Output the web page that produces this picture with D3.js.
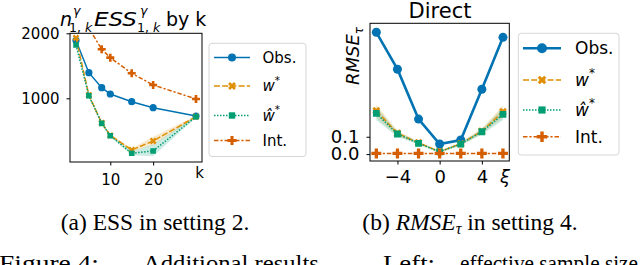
<!DOCTYPE html>
<html>
<head>
<meta charset="utf-8">
<script src="https://cdn.jsdelivr.net/npm/d3@7"></script>
<style>
body{margin:0;background:#fff}
svg{display:block}
text{font-family:"DejaVu Sans",sans-serif;fill:#000}
.serif{font-family:"Liberation Serif","Times New Roman",serif}
</style>
</head>
<body>
<svg id="fig" width="640" height="265"></svg>
<script>
// ---- left panel data (ESS by k)
var kVals = [2, 5, 8, 10, 15, 20, 30];
var essObs = [1890, 1394, 1163, 1066, 948, 856, 728];
var essW = [1930, 1050, 620, 430, 205, 343, 717];
var essWLo = [1910, 1030, 600, 415, 180, 280, 705];
var essWHi = [1950, 1070, 640, 445, 230, 410, 730];
var essWh = [1820, 1040, 615, 425, 154, 190, 717];
var essWhLo = [1800, 1020, 595, 410, 125, 110, 705];
var essWhHi = [1840, 1060, 635, 440, 185, 290, 730];
var essInt = [2900, 2080, 1754, 1625, 1385, 1205, 990];
var essTicksY = [1000, 2000];
var essTicksX = [10, 20];

// ---- right panel data (RMSE by xi)
var xiVals = [-6, -4, -2, 0, 2, 4, 6];
var rmseObs = [0.703, 0.49, 0.202, 0.058, 0.081, 0.374, 0.674];
var rmseW = [0.25, 0.12, 0.065, 0.014, 0.06, 0.132, 0.245];
var rmseWLo = [0.21, 0.105, 0.058, 0.01, 0.052, 0.118, 0.21];
var rmseWHi = [0.285, 0.135, 0.072, 0.018, 0.068, 0.148, 0.28];
var rmseWh = [0.235, 0.116, 0.062, 0.013, 0.058, 0.129, 0.229];
var rmseWhLo = [0.195, 0.1, 0.054, 0.009, 0.05, 0.113, 0.195];
var rmseWhHi = [0.27, 0.13, 0.07, 0.017, 0.066, 0.145, 0.265];
var rmseInt = [0.004, 0.004, 0.004, 0.004, 0.004, 0.004, 0.004];
var rmseTicksY = [0, 0.1];
var rmseTicksX = [-4, 0, 4];

var legendNames = ['Obs.', 'w', 'ŵ', 'Int.'];

var svg = d3.select('#fig');
var defs = svg.append('defs');

// marker shapes
function plusPts(s, t) {
	return [[-t,-s],[t,-s],[t,-t],[s,-t],[s,t],[t,t],[t,s],[-t,s],[-t,t],[-s,t],[-s,-t],[-t,-t]];
}
function markerPath(type, s) {
	if (type == 'o') return d3.symbol(d3.symbolCircle, Math.PI * s * s)();
	if (type == 'sq') return 'M' + (-s) + ',' + (-s) + 'h' + (2*s) + 'v' + (2*s) + 'h' + (-2*s) + 'Z';
	var pts = plusPts(s, s * 0.33);
	if (type == 'X') {
		var c = Math.SQRT1_2;
		pts = pts.map(function(p){ return [(p[0]-p[1])*c, (p[0]+p[1])*c]; });
	}
	return 'M' + pts.map(function(p){ return p[0].toFixed(2) + ',' + p[1].toFixed(2); }).join('L') + 'Z';
}

function drawPanel(o) {
	var g = svg.append('g');
	var x = d3.scaleLinear().domain(o.xDom).range([o.left, o.right]);
	var y = d3.scaleLinear().domain(o.yDom).range([o.bottom, o.top]);

	defs.append('clipPath').attr('id', o.id)
		.append('rect').attr('x', o.left).attr('y', o.top)
		.attr('width', o.right - o.left).attr('height', o.bottom - o.top);

	var plot = g.append('g').attr('clip-path', 'url(#' + o.id + ')');

	// confidence bands
	o.series.forEach(function(s) {
		if (!s.lo) return;
		var area = d3.area()
			.x(function(d, i){ return x(o.xs[i]); })
			.y0(function(d, i){ return y(s.lo[i]); })
			.y1(function(d, i){ return y(s.hi[i]); });
		plot.append('path').attr('d', area(s.vals))
			.attr('fill', s.color).attr('fill-opacity', 0.2).attr('stroke', 'none');
	});

	// lines + markers
	o.series.forEach(function(s) {
		var line = d3.line()
			.x(function(d, i){ return x(o.xs[i]); })
			.y(function(d){ return y(d); });
		plot.append('path').attr('d', line(s.vals))
			.attr('fill', 'none').attr('stroke', s.color)
			.attr('stroke-width', s.lw).attr('stroke-dasharray', s.dash);
		plot.selectAll(null).data(s.vals).enter().append('path')
			.attr('d', markerPath(s.marker, s.ms))
			.attr('transform', function(d, i){ return 'translate(' + x(o.xs[i]) + ',' + y(d) + ')'; })
			.attr('fill', s.color);
	});

	// frame
	g.append('rect').attr('x', o.left).attr('y', o.top)
		.attr('width', o.right - o.left).attr('height', o.bottom - o.top)
		.attr('fill', 'none').attr('stroke', '#000').attr('stroke-width', 1);

	var ax = g.append('g').attr('transform', 'translate(0,' + o.bottom + ')')
		.call(d3.axisBottom(x).tickValues(o.xTicks).tickSize(3.5).tickPadding(o.xPad)
			.tickFormat(d3.format('d')));
	var ay = g.append('g').attr('transform', 'translate(' + o.left + ',0)')
		.call(d3.axisLeft(y).tickValues(o.yTicks).tickSize(3.5).tickPadding(o.yPad)
			.tickFormat(o.yFmt));
	[ax, ay].forEach(function(a) {
		a.select('.domain').remove();
		a.attr('font-family', null).attr('font-size', o.fs);
		a.selectAll('line').attr('stroke', '#000');
		a.selectAll('text').attr('fill', '#000');
	});

	// legend
	var L = o.legend;
	g.append('rect').attr('x', L.x0).attr('y', L.y0)
		.attr('width', L.x1 - L.x0).attr('height', L.y1 - L.y0).attr('rx', 3)
		.attr('fill', '#fff').attr('stroke', '#d6d6d6').attr('stroke-width', 1);
	o.series.forEach(function(s, i) {
		var yy = L.ys[i];
		g.append('line').attr('x1', L.h0).attr('x2', L.h1).attr('y1', yy).attr('y2', yy)
			.attr('stroke', s.color).attr('stroke-width', s.lw).attr('stroke-dasharray', s.dash);
		g.append('path').attr('d', markerPath(s.marker, s.lms))
			.attr('transform', 'translate(' + ((L.h0 + L.h1) / 2) + ',' + yy + ')')
			.attr('fill', s.color);
		var t = g.append('text').attr('x', L.tx).attr('y', yy).attr('dy', '0.36em')
			.attr('font-size', L.fs);
		if (i == 1 || i == 2) {
			t.append('tspan').attr('font-style', 'italic').text(legendNames[i]);
			t.append('tspan').attr('font-size', L.fs * 0.7).attr('dy', '-0.75em').text('*');
		} else {
			t.text(legendNames[i]);
		}
	});
	return {x: x, y: y, g: g};
}

function styles(lw0, ms) {
	return [
		{color: '#0173b2', lw: lw0, dash: null, marker: 'o', ms: ms.o, lms: ms.lo},
		{color: '#de8f05', lw: 1.5, dash: '6,2.2', marker: 'X', ms: ms.x, lms: ms.lx},
		{color: '#029e73', lw: 1.5, dash: '1.5,1.5', marker: 'sq', ms: ms.s, lms: ms.ls},
		{color: '#d55e00', lw: 1.5, dash: '4.5,1.9,2.2,1.9', marker: 'P', ms: ms.p, lms: ms.lp}
	];
}

// ---- left panel
var sl = styles(1.5, {o: 3.6, x: 3.6, s: 2.8, p: 4, lo: 4, lx: 4.2, ls: 3.2, lp: 4.6});
sl[0].vals = essObs;
sl[1].vals = essW; sl[1].lo = essWLo; sl[1].hi = essWHi;
sl[2].vals = essWh; sl[2].lo = essWhLo; sl[2].hi = essWhHi;
sl[3].vals = essInt;
var pL = drawPanel({
	id: 'clipL', xs: kVals, series: sl,
	xDom: [0.6, 31.4], yDom: [20, 2000],
	left: 70, right: 202, top: 33.3, bottom: 162,
	xTicks: essTicksX, yTicks: essTicksY, xPad: 9, yPad: 7,
	yFmt: d3.format('d'), fs: 15,
	legend: {x0: 209, x1: 306, y0: 43.3, y1: 156.5, ys: [57.5, 86, 115.5, 140.5],
		h0: 214, h1: 250, tx: 262.5, fs: 15}
});
pL.g.append('text').attr('x', 199.5).attr('y', 178).attr('text-anchor', 'middle')
	.attr('font-size', 15).text('k');

// left title: n^γ_{1,k} ESS^γ_{1,k} by k
var tt = pL.g.append('g').attr('font-size', 19);
tt.append('text').attr('x', 60).attr('y', 26).attr('font-style', 'italic').text('n');
tt.append('text').attr('x', 73).attr('y', 15).attr('font-size', 12.5).attr('font-style', 'italic').text('γ');
tt.append('text').attr('x', 69).attr('y', 31.5).attr('font-size', 12.5).text('1,').append('tspan').attr('font-style', 'italic').text(' k');
tt.append('text').attr('x', 94).attr('y', 26).attr('font-style', 'italic')
	.attr('textLength', 43).attr('lengthAdjust', 'spacingAndGlyphs').text('ESS');
tt.append('text').attr('x', 140).attr('y', 15).attr('font-size', 12.5).attr('font-style', 'italic').text('γ');
tt.append('text').attr('x', 137).attr('y', 31.5).attr('font-size', 12.5).text('1,').append('tspan').attr('font-style', 'italic').text(' k');
tt.append('text').attr('x', 166).attr('y', 26).text('by k');

// ---- right panel
var sr = styles(2.6, {o: 4.5, x: 4.2, s: 3.4, p: 5, lo: 5, lx: 4.6, ls: 3.6, lp: 5.2});
sr[0].vals = rmseObs;
sr[1].vals = rmseW; sr[1].lo = rmseWLo; sr[1].hi = rmseWHi;
sr[2].vals = rmseWh; sr[2].lo = rmseWhLo; sr[2].hi = rmseWhHi;
sr[3].vals = rmseInt;
var pR = drawPanel({
	id: 'clipR', xs: xiVals, series: sr,
	xDom: [-6.6, 6.6], yDom: [-0.04, 0.755],
	left: 370, right: 509.3, top: 23.3, bottom: 161,
	xTicks: rmseTicksX, yTicks: rmseTicksY, xPad: 6, yPad: 7,
	yFmt: d3.format('.1f'), fs: 18,
	legend: {x0: 518.3, x1: 619, y0: 33.3, y1: 155, ys: [48.3, 80, 110, 136.7],
		h0: 523, h1: 561, tx: 575, fs: 17}
});
pR.g.append('text').attr('x', 505).attr('y', 183).attr('text-anchor', 'middle')
	.attr('font-size', 18).attr('font-style', 'italic').text('ξ');
pR.g.append('text').attr('x', 440).attr('y', 17.5).attr('text-anchor', 'middle')
	.attr('font-size', 21).text('Direct');
var yl = pR.g.append('text').attr('transform', 'translate(359,56) rotate(-90)')
	.attr('text-anchor', 'middle').attr('font-size', 18);
yl.append('tspan').attr('font-style', 'italic').text('RMSE');
yl.append('tspan').attr('font-size', 12).attr('dy', 4).attr('font-style', 'italic').text('τ');

// ---- captions
var cap = svg.append('g').attr('class', 'serif').attr('font-size', 23.5);
cap.append('text').attr('class', 'serif').attr('x', 155).attr('y', 230).attr('text-anchor', 'middle')
	.text('(a) ESS in setting 2.');
var cb = cap.append('text').attr('class', 'serif').attr('x', 470).attr('y', 230).attr('text-anchor', 'middle');
cb.append('tspan').text('(b) ');
cb.append('tspan').attr('font-style', 'italic').text('RMSE');
cb.append('tspan').attr('font-style', 'italic').attr('font-size', 16).attr('dy', 4).text('τ');
cb.append('tspan').attr('dy', -4).text(' in setting 4.');

// justified figure caption line (cut at bottom edge)
var fl = svg.append('g').attr('class', 'serif').attr('font-size', 23);
[['Figure 4:', -1, 100], ['Additional results.', 143, 182], ['Left:', 383, 52], ['effective sample size', 460, 178]]
	.forEach(function(w) {
		fl.append('text').attr('class', 'serif').attr('x', w[1]).attr('y', 270.5)
			.attr('textLength', w[2]).attr('lengthAdjust', 'spacingAndGlyphs').text(w[0]);
	});
</script>
</body>
</html>
